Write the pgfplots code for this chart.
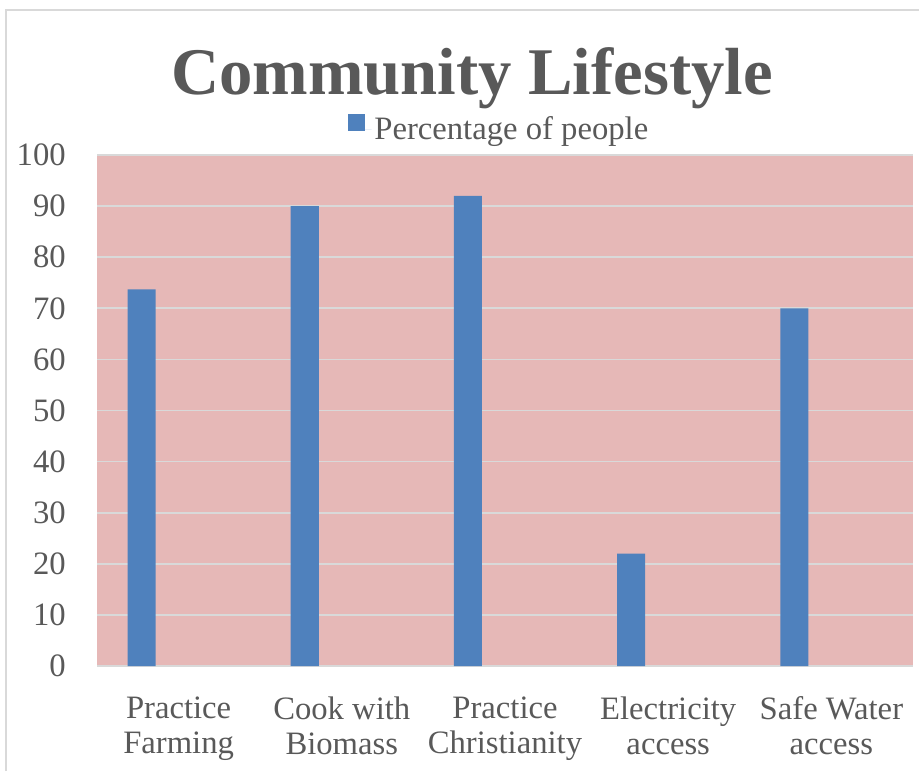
\documentclass[border=0pt]{standalone}
\usepackage{pgfplots}
\pgfplotsset{compat=1.18}
\usepackage{fontspec}
\setmainfont{Liberation Serif}
\definecolor{txt}{HTML}{595959}
\definecolor{barblue}{HTML}{4F81BD}
\definecolor{plotpink}{HTML}{E6B8B7}
\definecolor{gridc}{HTML}{D9D9D9}
\begin{document}
\begin{tikzpicture}
\useasboundingbox (0,0) rectangle (689.25pt,578.25pt);
% chart frame
\draw[gridc, line width=1pt] (4.5pt,0) -- (4.5pt,570.75pt) -- (689.25pt,570.75pt);
% title
\node[anchor=base, text=txt, font=\fontsize{50}{60}\selectfont\bfseries]
  at (354pt,507pt) {Community Lifestyle};
\begin{axis}[
  at={(72.75pt,78.75pt)}, anchor=south west,
  scale only axis, width=612pt, height=383.25pt,
  xmin=-0.5, xmax=4.5, ymin=0, ymax=100,
  ytick distance=10,
  xtick={0,1,2,3,4},
  xticklabels={{Practice\\Farming},{Cook with\\Biomass},{Practice\\Christianity},{Electricity\\access},{Safe Water\\access}},
  axis line style={draw=none},
  major tick length=0pt,
  ymajorgrids, major grid style={gridc, line width=1.3pt},
  axis background/.style={fill=plotpink},
  /pgf/number format/assume math mode=true,
  tick label style={text=txt, font=\fontsize{24.5}{26.25}\selectfont},
  yticklabel style={anchor=east, inner sep=0pt, xshift=-23.25pt},
  xticklabel style={anchor=north, inner sep=0pt, align=center, yshift=-23pt},
  legend style={at={(0.493,1.051)}, anchor=center, draw=none, fill=none,
    text=txt, font=\fontsize{24.5}{26.25}\selectfont},
  legend image code/.code={\fill[barblue] (0pt,-1pt) rectangle (12.75pt,11.75pt);
    \path (12.75pt,0pt) -- (18pt,0pt);},
]
\addplot[ybar, fill=barblue, draw=none, bar width=0.172, bar shift=-0.227]
coordinates {
(0, 73.7)
(1, 90)
(2, 92)
(3, 22)
(4, 70)
};
\addlegendentry{Percentage of people}
\end{axis}
\end{tikzpicture}
\end{document}
